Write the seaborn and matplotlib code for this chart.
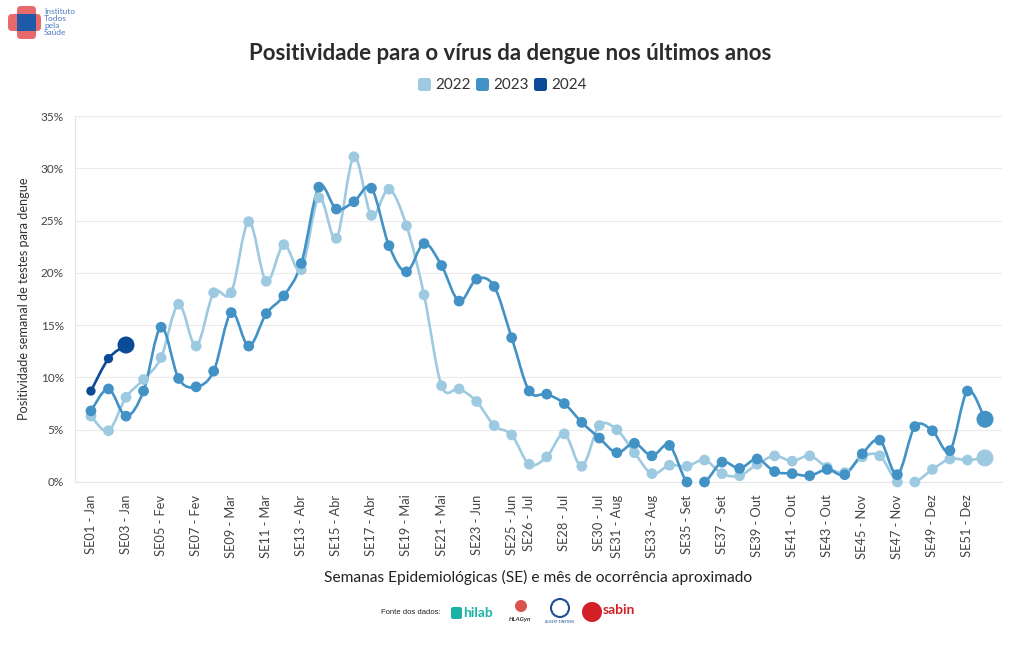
import numpy as np
import pandas as pd
import matplotlib
matplotlib.use("Agg")
import matplotlib.pyplot as plt
import seaborn as sns
from matplotlib.path import Path
from matplotlib.patches import PathPatch, FancyBboxPatch, Circle, Rectangle

# %% data (positividade semanal, %)
weeks = list(range(1, 53))

pos_2022 = [6.3, 4.9, 8.1, 9.8, 11.9, 17.0, 13.0, 18.1, 18.1, 24.9,
            19.2, 22.7, 20.3, 27.2, 23.3, 31.1, 25.5, 28.0, 24.5, 17.9,
            9.2, 8.9, 7.7, 5.4, 4.5, 1.7, 2.4, 4.6, 1.5, 5.4,
            5.0, 2.8, 0.8, 1.6, 1.5, 2.1, 0.8, 0.6, 1.7, 2.5,
            2.0, 2.5, 1.4, 0.9, 2.4, 2.5, 0.0, 0.0, 1.2, 2.2,
            2.1, 2.3]
pos_2023 = [6.8, 8.9, 6.3, 8.7, 14.8, 9.9, 9.1, 10.6, 16.2, 13.0,
            16.1, 17.8, 20.9, 28.2, 26.1, 26.8, 28.1, 22.6, 20.1, 22.8,
            20.7, 17.3, 19.4, 18.7, 13.8, 8.7, 8.4, 7.5, 5.7, 4.2,
            2.8, 3.7, 2.5, 3.5, 0.0, 0.0, 1.9, 1.3, 2.2, 1.0,
            0.8, 0.6, 1.2, 0.7, 2.7, 4.0, 0.7, 5.3, 4.9, 3.0,
            8.7, 6.0]
pos_2024 = [8.7, 11.8, 13.1]

years = ["2022", "2023", "2024"]
colors = {"2022": "#9ecae1", "2023": "#4292c6", "2024": "#0b4a97"}

tick_weeks = [1, 3, 5, 7, 9, 11, 13, 15, 17, 19, 21, 23, 25, 26, 28, 30,
              31, 33, 35, 37, 39, 41, 43, 45, 47, 49, 51]
tick_labels = ["SE01 - Jan", "SE03 - Jan", "SE05 - Fev", "SE07 - Fev",
               "SE09 - Mar", "SE11 - Mar", "SE13 - Abr", "SE15 - Abr",
               "SE17 - Abr", "SE19 - Mai", "SE21 - Mai", "SE23 - Jun",
               "SE25 - Jun", "SE26 - Jul", "SE28 - Jul", "SE30 - Jul",
               "SE31 - Aug", "SE33 - Aug", "SE35 - Set", "SE37 - Set",
               "SE39 - Out", "SE41 - Out", "SE43 - Out", "SE45 - Nov",
               "SE47 - Nov", "SE49 - Dez", "SE51 - Dez"]

df = pd.concat([
    pd.DataFrame({"semana": weeks, "pos": pos_2022, "ano": "2022"}),
    pd.DataFrame({"semana": weeks, "pos": pos_2023, "ano": "2023"}),
    pd.DataFrame({"semana": weeks[:len(pos_2024)], "pos": pos_2024, "ano": "2024"}),
])


def spline_path(x, y):
    # catmull-rom -> bezier, so the line looks like the plotly spline
    x = np.asarray(x, float)
    y = np.asarray(y, float)
    n = len(x)
    verts = [(x[0], y[0])]
    codes = [Path.MOVETO]
    for i in range(n - 1):
        a = max(i - 1, 0)
        b = min(i + 2, n - 1)
        c1 = (x[i] + (x[i + 1] - x[a]) / 6, y[i] + (y[i + 1] - y[a]) / 6)
        c2 = (x[i + 1] - (x[b] - x[i]) / 6, y[i + 1] - (y[b] - y[i]) / 6)
        verts += [c1, c2, (x[i + 1], y[i + 1])]
        codes += [Path.CURVE4] * 3
    return Path(verts, codes)


# %%
sns.set_theme(style="white")
plt.rcParams["font.family"] = ["Lato", "DejaVu Sans"]

fig = plt.figure(figsize=(10.2, 6.5), dpi=100)
ax = fig.add_axes([75 / 1020, 1 - 482 / 650, (1002 - 75) / 1020, (482 - 116) / 650])

for ano in years:
    d = df[df["ano"] == ano]
    c = colors[ano]
    ax.add_patch(PathPatch(spline_path(d["semana"], d["pos"]), facecolor="none",
                           edgecolor=c, lw=1.9, zorder=2))
    s = 45 if ano == "2024" else 60
    sns.scatterplot(data=d.iloc[:-1], x="semana", y="pos", color=c, s=s,
                    edgecolor="none", ax=ax, zorder=3, clip_on=False)
    sns.scatterplot(data=d.iloc[-1:], x="semana", y="pos", color=c, s=150,
                    edgecolor="none", ax=ax, zorder=3, clip_on=False)

ax.set_xlim(0.09, 52.97)
ax.set_ylim(0, 35)
ax.set_yticks(range(0, 36, 5))
ax.set_yticklabels([f"{v}%" for v in range(0, 36, 5)], fontsize=8.5, color="#444444")
ax.set_xticks(weeks, minor=True)
ax.set_xticks(tick_weeks)
ax.set_xticklabels(tick_labels, rotation=90, fontsize=9.3, color="#444444")
ax.tick_params(axis="x", which="both", length=5, color="#e6e6e6", width=0.8, pad=4)
ax.tick_params(axis="y", length=5, color="#e6e6e6", width=0.8, pad=3)
ax.grid(axis="y", color="#ebebeb", lw=0.8)
ax.grid(axis="x", visible=False)
for side in ["top", "right"]:
    ax.spines[side].set_visible(False)
for side in ["left", "bottom"]:
    ax.spines[side].set_color("#e6e6e6")
    ax.spines[side].set_linewidth(0.8)

ax.set_xlabel("Semanas Epidemiológicas (SE) e mês de ocorrência aproximado",
              fontsize=11.2, color="#222222", labelpad=8)
ax.set_ylabel("Positividade semanal de testes para dengue", fontsize=9.2,
              color="#333333", labelpad=8)

# titulo e legenda
fig.text(0.5, 1 - 54 / 650, "Positividade para o vírus da dengue nos últimos anos",
         ha="center", va="center", fontsize=16, fontweight="bold", color="#2b2b2b")

over = fig.add_axes([0, 0, 1, 1], zorder=5)
over.set_xlim(0, 1020)
over.set_ylim(650, 0)
over.axis("off")
over.patch.set_alpha(0)

leg_x = [418, 476, 534]
for xx, ano in zip(leg_x, years):
    over.add_patch(FancyBboxPatch((xx, 78), 13, 13, boxstyle="round,pad=0,rounding_size=2.5",
                                  fc=colors[ano], ec="none"))
    over.text(xx + 17, 85, ano, fontsize=11, va="center", ha="left", color="#333333")

# logo
over.add_patch(FancyBboxPatch((17, 6), 19, 33, boxstyle="round,pad=0,rounding_size=4",
                              fc="#e8696b", ec="none"))
over.add_patch(FancyBboxPatch((8, 14), 33, 17, boxstyle="round,pad=0,rounding_size=4",
                              fc="#e8696b", ec="none"))
over.add_patch(Rectangle((17, 14), 19, 17, fc="#1f5aa8", ec="none"))
over.text(44, 22, "Instituto\nTodos\npela\nSaúde", fontsize=6, va="center", ha="left",
          color="#4a78c0", linespacing=0.95)

# fontes
over.text(441, 613, "Fonte dos dados:", fontsize=5.5, ha="right", va="center",
          color="#222222", family=["Liberation Sans", "DejaVu Sans"])
over.add_patch(FancyBboxPatch((451, 607), 11, 12, boxstyle="round,pad=0,rounding_size=2",
                              fc="#1bb3a4", ec="none"))
over.text(463, 613, "hilab", fontsize=10, fontweight="bold", ha="left", va="center",
          color="#1bb3a4")
over.add_patch(Circle((521, 606), 6, fc="#d9534f", ec="none"))
over.text(520, 620, "HLAGyn", fontsize=4.5, fontweight="bold", ha="center", va="center",
          color="#333333", style="italic")
over.add_patch(Circle((560, 608), 9, fc="none", ec="#1d4f91", lw=1.5))
over.text(560, 622, "ALBERT EINSTEIN", fontsize=2.5, ha="center", va="center", color="#1d4f91")
over.add_patch(Circle((592, 612), 10, fc="#d32027", ec="none"))
over.text(603, 610, "sabin", fontsize=10, fontweight="bold", ha="left", va="center",
          color="#d32027")

plt.savefig("out.png", dpi=100)
